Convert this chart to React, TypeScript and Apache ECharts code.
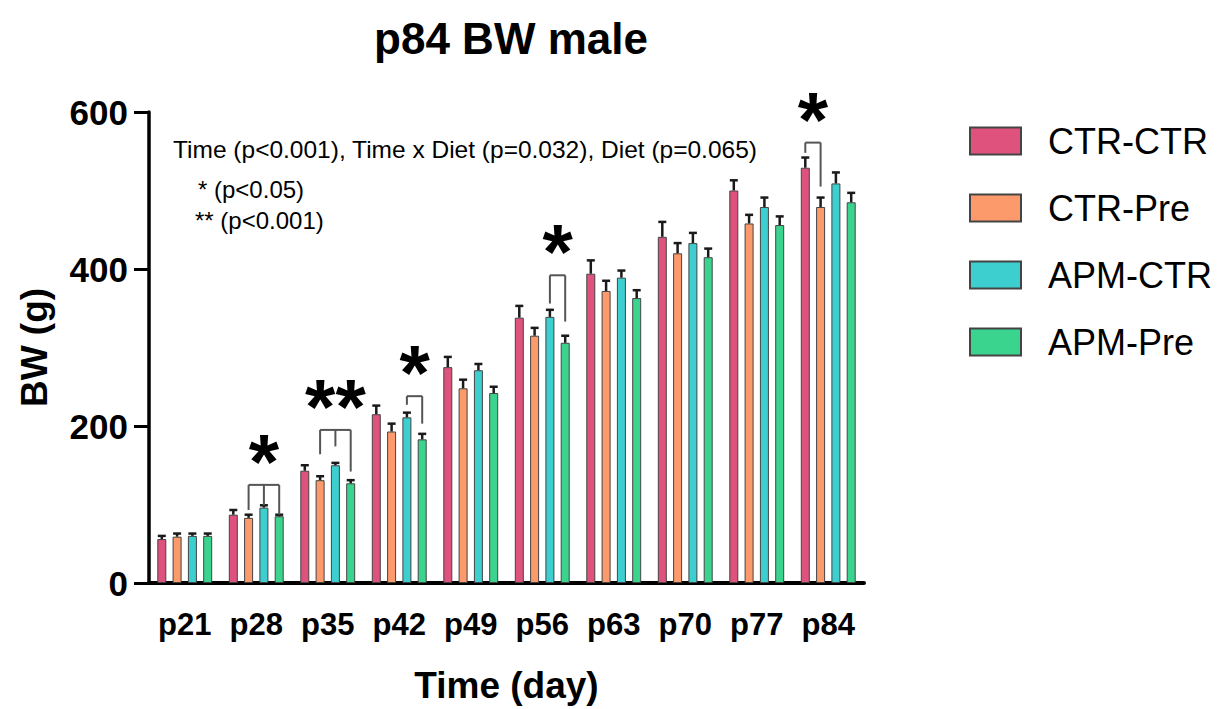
import React, { useEffect, useRef } from "react";
import * as echarts from "echarts";

const categories = ["p21", "p28", "p35", "p42", "p49", "p56", "p63", "p70", "p77", "p84"];
const groupNames = ["CTR-CTR", "CTR-Pre", "APM-CTR", "APM-Pre"];
const groupColors = ["#E0527E", "#FC9A6B", "#3DCFCF", "#3AD48E"];

const ctrCtr = [56, 87, 143, 215, 275, 338, 394, 441, 500, 529];
const ctrPre = [59, 83, 131, 193, 248, 315, 372, 420, 458, 479];
const apmCtr = [60, 96, 150, 211, 271, 339, 389, 433, 479, 509];
const apmPre = [60, 85, 127, 183, 242, 306, 363, 415, 456, 485];

const ctrCtrErr = [4, 6, 7, 11, 13, 15, 17, 19, 13, 13];
const ctrPreErr = [4, 4, 5, 10, 11, 10, 13, 13, 11, 12];
const apmCtrErr = [3, 3, 3, 6, 8, 9, 9, 13, 12, 14];
const apmPreErr = [3, 2, 4, 7, 8, 9, 10, 11, 11, 12];

const bracketCats = ["p28", "p35", "p42", "p56", "p84"];
const bracketLabels = ["*", "**", "*", "*", "*"];
const bracketTops = [125, 195, 238, 392, 561];
const bracketLegGroups = [[1, 2, 3], [1, 2, 3], [2, 3], [2, 3], [0, 1]];
const bracketLegEnds = [[93, 99, 87], [164, 174, 142], [227, 203], [356, 333], [548, 505]];

const statsLine = "Time (p<0.001), Time x Diet (p=0.032), Diet (p=0.065)";
const sigLine1 = "* (p<0.05)";
const sigLine2 = "** (p<0.001)";

const FONT = "'Liberation Sans', Arial, Helvetica, sans-serif";
const BAR_W = 9;
const BAR_GAP = 0.7;
const SPACING = BAR_W * (1 + BAR_GAP);

const values = [ctrCtr, ctrPre, apmCtr, apmPre];
const errors = [ctrCtrErr, ctrPreErr, apmCtrErr, apmPreErr];

export default function App() {
  const ref = useRef<HTMLDivElement>(null);
  useEffect(() => {
    if (!ref.current) return;
    const chart = echarts.init(ref.current, undefined, { renderer: "svg" });

    const barSeries = groupNames.map((name, g) => ({
      name,
      type: "bar",
      data: values[g],
      barWidth: BAR_W,
      barGap: BAR_GAP * 100 + "%",
      itemStyle: { color: groupColors[g], borderColor: "#444", borderWidth: 1 },
      z: 2,
    }));

    const errSeries = groupNames.map((name, g) => ({
      name: name + " err",
      type: "custom",
      z: 3,
      silent: true,
      data: categories.map((c, i) => [i, values[g][i], errors[g][i]]),
      renderItem: (params: any, api: any) => {
        const idx = api.value(0);
        const v = api.value(1);
        const e = api.value(2);
        const base = api.coord([idx, v]);
        const top = api.coord([idx, v + e]);
        const x = base[0] + (g - 1.5) * SPACING;
        const st = { stroke: "#1a1a1a", lineWidth: 2.5 };
        return {
          type: "group",
          children: [
            { type: "line", shape: { x1: x, y1: base[1], x2: x, y2: top[1] }, style: st },
            { type: "line", shape: { x1: x - 4, y1: top[1], x2: x + 4, y2: top[1] }, style: st },
          ],
        };
      },
    }));

    const bracketSeries = {
      name: "brackets",
      type: "custom",
      z: 4,
      silent: true,
      data: bracketCats.map((c, k) => [categories.indexOf(c), bracketTops[k], k]),
      renderItem: (params: any, api: any) => {
        const idx = api.value(0);
        const topV = api.value(1);
        const k = api.value(2);
        const center = api.coord([idx, topV]);
        const topY = center[1];
        const legs = bracketLegGroups[k];
        const xs = legs.map((g) => center[0] + (g - 1.5) * SPACING);
        const st = { stroke: "#555", lineWidth: 2, fill: null };
        const children: any[] = [
          {
            type: "line",
            shape: { x1: xs[0], y1: topY, x2: xs[xs.length - 1], y2: topY },
            style: st,
          },
        ];
        legs.forEach((g, j) => {
          const endY = api.coord([idx, bracketLegEnds[k][j]])[1];
          children.push({
            type: "line",
            shape: { x1: xs[j], y1: topY, x2: xs[j], y2: endY },
            style: st,
          });
        });
        const mid = (xs[0] + xs[xs.length - 1]) / 2;
        children.push({
          type: "text",
          x: mid,
          y: topY + 16,
          style: {
            text: bracketLabels[k],
            fontSize: 78,
            fontWeight: "bold",
            fontFamily: FONT,
            fill: "#000",
            align: "center",
            verticalAlign: "bottom",
          },
        });
        return { type: "group", children };
      },
    };

    chart.setOption({
      animation: false,
      title: {
        text: "p84 BW male",
        left: 506,
        textAlign: "center",
        top: 11,
        textStyle: { fontSize: 44, fontWeight: "bold", fontFamily: FONT, color: "#000" },
      },
      legend: {
        data: groupNames,
        orient: "vertical",
        left: 964,
        top: 118,
        icon: "rect",
        itemWidth: 51,
        itemHeight: 27,
        itemGap: 31,
        selectedMode: false,
        textStyle: { fontSize: 36, fontFamily: FONT, color: "#000", padding: [0, 0, 0, 22] },
      },
      grid: { left: 149, right: 364, top: 112, bottom: 126, containLabel: false },
      xAxis: {
        type: "category",
        data: categories,
        name: "Time (day)",
        nameLocation: "middle",
        nameGap: 84,
        nameTextStyle: { fontSize: 37, fontWeight: "bold", fontFamily: FONT, color: "#000" },
        axisLine: { lineStyle: { color: "#000", width: 4 } },
        axisTick: { alignWithLabel: true, interval: 0, length: 16, lineStyle: { color: "#000", width: 3 } },
        axisLabel: {
          interval: 0,
          fontSize: 31,
          fontWeight: "bold",
          fontFamily: FONT,
          color: "#000",
          margin: 26,
        },
      },
      yAxis: {
        type: "value",
        min: 0,
        max: 600,
        interval: 200,
        name: "BW (g)",
        nameLocation: "middle",
        nameGap: 96,
        nameTextStyle: { fontSize: 37, fontWeight: "bold", fontFamily: FONT, color: "#000" },
        splitLine: { show: false },
        axisLine: { show: true, lineStyle: { color: "#000", width: 3.5 } },
        axisTick: { show: true, length: 15, lineStyle: { color: "#000", width: 3 } },
        axisLabel: { fontSize: 35, fontWeight: "bold", fontFamily: FONT, color: "#000", margin: 21 },
      },
      graphic: [
        {
          type: "text",
          left: 173,
          top: 137,
          style: { text: statsLine, fontSize: 24.5, fontFamily: FONT, fill: "#000" },
        },
        {
          type: "text",
          left: 198,
          top: 177,
          style: { text: sigLine1, fontSize: 24, fontFamily: FONT, fill: "#000" },
        },
        {
          type: "text",
          left: 195,
          top: 208,
          style: { text: sigLine2, fontSize: 24, fontFamily: FONT, fill: "#000" },
        },
      ],
      series: [...barSeries, ...errSeries, bracketSeries],
    });

    return () => chart.dispose();
  }, []);

  return (
    <div
      ref={ref}
      style={{ position: "fixed", left: 0, top: 0, width: 1228, height: 709, background: "#fff" }}
    />
  );
}
